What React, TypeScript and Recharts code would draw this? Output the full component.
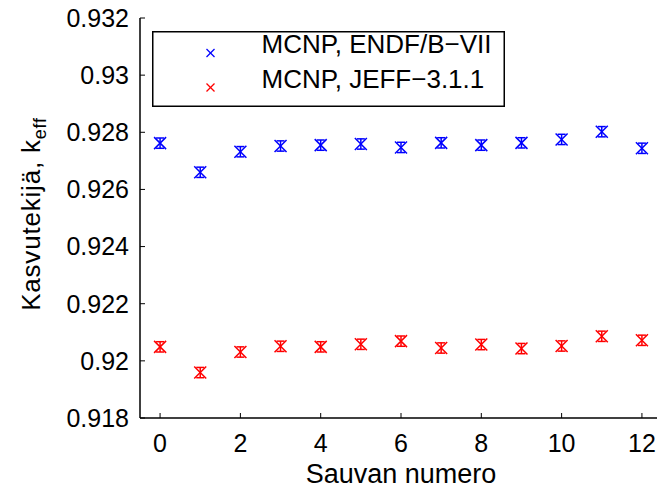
import { ScatterChart, Scatter, XAxis, YAxis, ErrorBar, Legend } from "recharts";

const rods = [0, 1, 2, 3, 4, 5, 6, 7, 8, 9, 10, 11, 12];
const endfK = [0.92762, 0.9266, 0.92732, 0.92752, 0.92755, 0.92759, 0.92747, 0.92763, 0.92755, 0.92763, 0.92775, 0.92802, 0.92744];
const jeffK = [0.92049, 0.91959, 0.92031, 0.92051, 0.92049, 0.92058, 0.92069, 0.92045, 0.92057, 0.92043, 0.92052, 0.92086, 0.92072];
const endfErr = [0.00018, 0.00018, 0.00018, 0.00018, 0.00018, 0.00018, 0.00018, 0.00018, 0.00018, 0.00018, 0.00018, 0.00018, 0.00018];
const jeffErr = [0.00018, 0.00018, 0.00018, 0.00018, 0.00018, 0.00018, 0.00018, 0.00018, 0.00018, 0.00018, 0.00018, 0.00018, 0.00018];
const seriesNames = ["MCNP, ENDF/B−VII", "MCNP, JEFF−3.1.1"];
const seriesColors = ["#0000ff", "#ff0000"];
const xTicks = [0, 2, 4, 6, 8, 10, 12];
const yTicks = [0.918, 0.92, 0.922, 0.924, 0.926, 0.928, 0.93, 0.932];

const endfData = rods.map((x, i) => ({ x, y: endfK[i], err: endfErr[i] }));
const jeffData = rods.map((x, i) => ({ x, y: jeffK[i], err: jeffErr[i] }));

const FONT = "'Liberation Sans', Arial, Helvetica, sans-serif";

const XMark = ({ cx, cy, size, color, width }: any) => (
  <g>
    <line x1={cx - size} y1={cy - size} x2={cx + size} y2={cy + size} stroke={color} strokeWidth={width} />
    <line x1={cx - size} y1={cy + size} x2={cx + size} y2={cy - size} stroke={color} strokeWidth={width} />
  </g>
);

// drawn like the matlab legend box
const renderLegend = () => (
  <svg width={353} height={76} style={{ display: "block" }}>
    <rect x={0.75} y={0.75} width={351.5} height={74.5} fill="#fff" stroke="#000" strokeWidth={1.5} />
    {seriesNames.map((name, i) => (
      <g key={name}>
        <XMark cx={58.5} cy={22 + i * 34.5} size={4} color={seriesColors[i]} width={1.2} />
        <text x={109.5} y={22 + i * 34.5} fontSize={26} fontFamily={FONT} fill="#000">
          {name}
        </text>
      </g>
    ))}
  </svg>
);

const YLabel = (props: any) => {
  const vb = props.viewBox || { x: 0, y: 0, width: 0, height: 0 };
  const cx = vb.x + 40;
  const cy = vb.y + vb.height / 2 - 4;
  return (
    <text
      x={cx}
      y={cy}
      transform={`rotate(-90, ${cx}, ${cy})`}
      textAnchor="middle"
      fontSize={26}
      letterSpacing={0.8}
      fontFamily={FONT}
      fill="#000"
    >
      Kasvutekijä, k
      <tspan fontSize={18} dy={6}>
        eff
      </tspan>
    </text>
  );
};

const fmt = (v: number) => parseFloat(v.toFixed(3)).toString();

export default function App() {
  return (
    <div
      style={{
        position: "absolute",
        left: 0,
        top: 0,
        width: 657,
        height: 488,
        overflow: "hidden",
        background: "#fff",
      }}
    >
      <ScatterChart
        width={670}
        height={488}
        margin={{ top: 18, right: 8, bottom: 0, left: 0 }}
        style={{ fontFamily: FONT }}
      >
        <XAxis
          type="number"
          dataKey="x"
          domain={[-0.5, 12.5]}
          ticks={xTicks}
          height={70}
          tickSize={-5}
          tickMargin={21}
          tick={{ fill: "#000", fontSize: 25 }}
          axisLine={{ stroke: "#000", strokeWidth: 1.5 }}
          tickLine={{ stroke: "#000" }}
          label={{
            value: "Sauvan numero",
            position: "insideBottom",
            offset: 5,
            fontSize: 27,
            fill: "#000",
          }}
        />
        <XAxis
          xAxisId="top"
          orientation="top"
          type="number"
          dataKey="x"
          domain={[-0.5, 12.5]}
          ticks={xTicks}
          height={0}
          tickSize={-5}
          tickFormatter={() => ""}
          axisLine={{ stroke: "#000", strokeWidth: 1.5 }}
          tickLine={{ stroke: "#000" }}
        />
        <YAxis
          type="number"
          dataKey="y"
          domain={[0.918, 0.932]}
          ticks={yTicks}
          width={140}
          tickSize={-5}
          tickMargin={16}
          tickFormatter={fmt}
          tick={{ fill: "#000", fontSize: 25 }}
          axisLine={{ stroke: "#000", strokeWidth: 1.5 }}
          tickLine={{ stroke: "#000" }}
          label={{ content: YLabel }}
        />
        <Legend
          content={renderLegend}
          layout="horizontal"
          verticalAlign="middle"
          align="center"
          wrapperStyle={{ top: 31, left: 152, width: 353, height: 76 }}
        />
        <Scatter
          name={seriesNames[0]}
          data={endfData}
          fill={seriesColors[0]}
          isAnimationActive={false}
          shape={(p: any) => <XMark cx={p.cx} cy={p.cy} size={6} color={seriesColors[0]} width={1.5} />}
        >
          <ErrorBar dataKey="err" direction="y" width={4} stroke={seriesColors[0]} strokeWidth={1.5} />
        </Scatter>
        <Scatter
          name={seriesNames[1]}
          data={jeffData}
          fill={seriesColors[1]}
          isAnimationActive={false}
          shape={(p: any) => <XMark cx={p.cx} cy={p.cy} size={6} color={seriesColors[1]} width={1.5} />}
        >
          <ErrorBar dataKey="err" direction="y" width={4} stroke={seriesColors[1]} strokeWidth={1.5} />
        </Scatter>
      </ScatterChart>
    </div>
  );
}
